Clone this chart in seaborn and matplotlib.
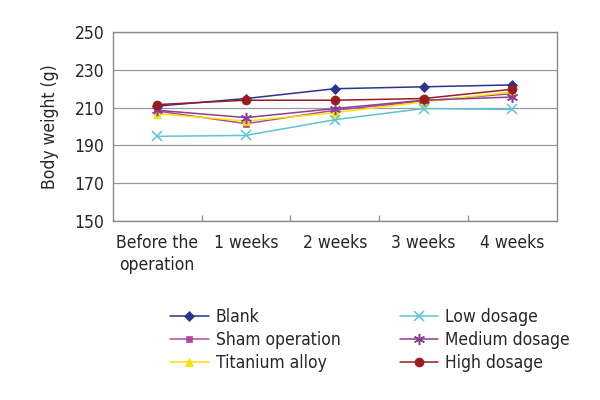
import matplotlib
matplotlib.use("Agg")
import matplotlib.pyplot as plt
import seaborn as sns
import pandas as pd
from matplotlib.ticker import FixedLocator, NullFormatter

categories = ["Before the\noperation", "1 weeks", "2 weeks", "3 weeks", "4 weeks"]
series_names = ["Blank", "Sham operation", "Titanium alloy", "Low dosage", "Medium dosage", "High dosage"]
blank = [210.8, 214.8, 220.0, 221.0, 222.0]
sham = [208.2, 201.5, 208.6, 213.5, 217.4]
titanium = [206.8, 202.9, 207.3, 213.0, 218.3]
low = [194.8, 195.3, 203.6, 209.5, 209.0]
medium = [208.6, 204.7, 209.5, 213.9, 215.6]
high = [211.6, 213.9, 213.9, 214.8, 219.7]
values = [blank, sham, titanium, low, medium, high]
yticks = [150, 170, 190, 210, 230, 250]

colors = ["#2B3489", "#B04A9E", "#F5E400", "#5EC3D5", "#8C3F92", "#9A1C1F"]
markers = ["D", "s", "^", "x", (6, 2, 0), "o"]
sizes = [5, 5, 6, 7, 8, 6.5]

rows = []
for name, vals in zip(series_names, values):
    for i, v in enumerate(vals):
        rows.append({"series": name, "pos": i, "value": v})
df = pd.DataFrame(rows)

sns.set_theme(style="white")
plt.rcParams["font.family"] = ["DejaVu Sans"]
plt.rcParams["font.stretch"] = "condensed"

FS = 12.5
fig = plt.figure(figsize=(6, 4), dpi=100)
ax = fig.add_axes([0.188, 0.4475, 0.74, 0.4725])

for name, col, mk, ms in zip(series_names, colors, markers, sizes):
    sub = df[df["series"] == name]
    sns.lineplot(data=sub, x="pos", y="value", ax=ax, color=col, marker=mk,
                 markersize=ms, markeredgecolor=col,
                 markeredgewidth=1.1 if mk in ("x", (6, 2, 0)) else 0.5,
                 linewidth=1.1, label=name, legend=False)

ax.set_xlim(-0.5, 4.5)
ax.set_ylim(150, 250)
ax.set_yticks(yticks)
ax.set_yticklabels([str(t) for t in yticks], fontsize=FS)
ax.set_xticks(range(len(categories)))
ax.set_xticklabels(categories, fontsize=FS, linespacing=1.35)
ax.xaxis.set_minor_locator(FixedLocator([0.5, 1.5, 2.5, 3.5]))
ax.xaxis.set_minor_formatter(NullFormatter())
ax.tick_params(axis="x", which="major", length=0, pad=9)
ax.tick_params(axis="x", which="minor", length=4, direction="in", color="#999999", bottom=True)
ax.tick_params(axis="y", length=0, pad=6)
ax.set_xlabel("")
ax.set_ylabel("Body weight (g)", fontsize=FS, labelpad=11)
ax.grid(axis="y", color="#9a9a9a", linewidth=0.9)
ax.set_axisbelow(True)
for s in ax.spines.values():
    s.set_color("#8a8a8a")
    s.set_linewidth(1.0)

handles, labels = ax.get_legend_handles_labels()
fig.legend(handles, labels, ncol=2, loc="center", bbox_to_anchor=(0.617, 0.15),
           frameon=False, fontsize=FS, handlelength=2.2, columnspacing=3.45,
           labelspacing=0.28, handletextpad=0.4)

fig.savefig("out.png", dpi=100)
